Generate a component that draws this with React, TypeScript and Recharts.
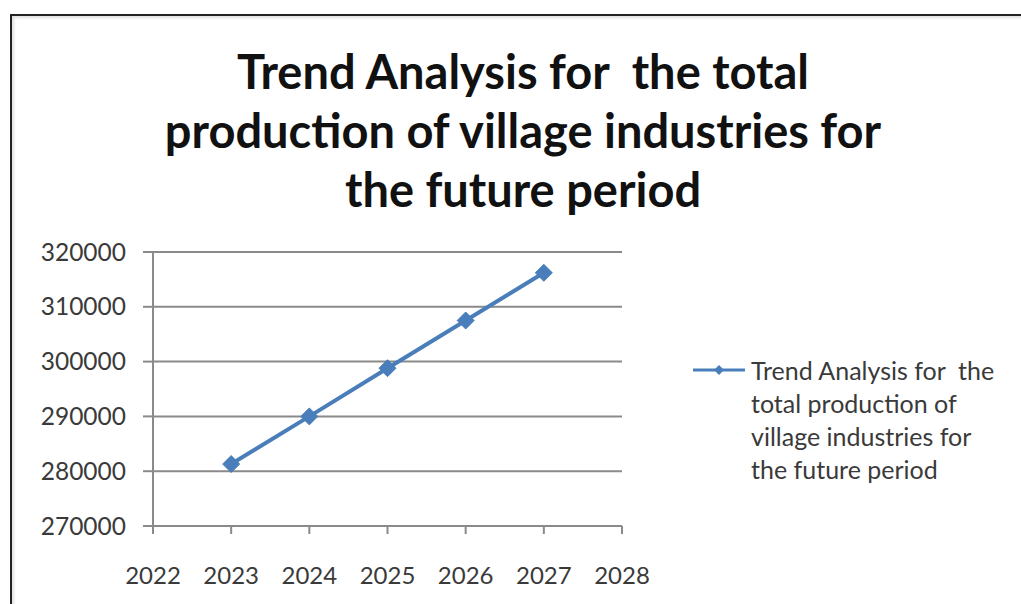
import { LineChart, Line, XAxis, YAxis, CartesianGrid, Legend } from "recharts";

const years = [2023, 2024, 2025, 2026, 2027];
const production = [281300, 290000, 298800, 307500, 316200];
const xTicks = [2022, 2023, 2024, 2025, 2026, 2027, 2028];
const yTicks = [270000, 280000, 290000, 300000, 310000, 320000];
const seriesName = "Trend Analysis for  the\ntotal production of\nvillage industries for\nthe future period";

const data = years.map((year, i) => ({ year, value: production[i] }));

const BLUE = "#4a7ebb";
const AXIS = "#8a8a8a";
const FONT = "Lato, 'Open Sans', sans-serif";

function Diamond({ cx, cy }: { cx?: number; cy?: number }) {
  if (cx == null || cy == null) return null;
  const r = 8.5;
  return <path d={`M${cx},${cy - r}L${cx + r},${cy}L${cx},${cy + r}L${cx - r},${cy}Z`} fill={BLUE} stroke={BLUE} />;
}

function LegendBox() {
  return (
    <div style={{ display: "flex", alignItems: "flex-start", fontFamily: FONT, fontSize: 25, color: "#3a3a3a", lineHeight: "33px" }}>
      <svg width={58} height={33} style={{ flex: "none" }}>
        <line x1={0} y1={16} x2={52} y2={16} stroke={BLUE} strokeWidth={3} />
        <path d="M26,11L31,16L26,21L21,16Z" fill={BLUE} />
      </svg>
      <div style={{ whiteSpace: "pre", width: 270 }}>{seriesName}</div>
    </div>
  );
}

export default function App() {
  return (
    <div style={{ position: "fixed", left: 0, top: 0, width: 1021, height: 604, background: "#fff", overflow: "hidden" }}>
      <div
        style={{
          position: "absolute",
          left: 10,
          top: 14,
          width: 1040,
          height: 620,
          border: "2px solid #222",
          boxShadow: "inset 2px 2px 3px rgba(0,0,0,0.12)",
        }}
      />
      <div
        style={{
          position: "absolute",
          left: 0,
          top: 42,
          width: 1046,
          textAlign: "center",
          fontFamily: FONT,
          fontWeight: 700,
          fontSize: 47,
          lineHeight: "59px",
          color: "#111",
          whiteSpace: "pre",
        }}
      >
        {"Trend Analysis for  the total\nproduction of village industries for\nthe future period"}
      </div>
      <LineChart width={1021} height={604} data={data} margin={{ top: 252, right: 399, bottom: 0, left: 0 }}>
        <CartesianGrid vertical={false} stroke={AXIS} strokeWidth={2} />
        <XAxis
          dataKey="year"
          type="number"
          domain={[2022, 2028]}
          ticks={xTicks}
          height={78}
          tickSize={8}
          tickMargin={33}
          stroke={AXIS}
          strokeWidth={2}
          tick={{ fill: "#3a3a3a", fontSize: 24, fontFamily: FONT }}
        />
        <YAxis
          type="number"
          domain={[270000, 320000]}
          ticks={yTicks}
          width={153}
          tickSize={10}
          tickMargin={17}
          stroke={AXIS}
          strokeWidth={2}
          tick={{ fill: "#3a3a3a", fontSize: 24.5, fontFamily: FONT }}
        />
        <Legend
          layout="horizontal"
          verticalAlign="middle"
          content={() => <LegendBox />}
          wrapperStyle={{ position: "absolute", left: 693, top: 354, width: 330 }}
        />
        <Line
          dataKey="value"
          name={seriesName}
          stroke={BLUE}
          strokeWidth={4}
          dot={<Diamond />}
          activeDot={false}
          isAnimationActive={false}
        />
      </LineChart>
    </div>
  );
}
